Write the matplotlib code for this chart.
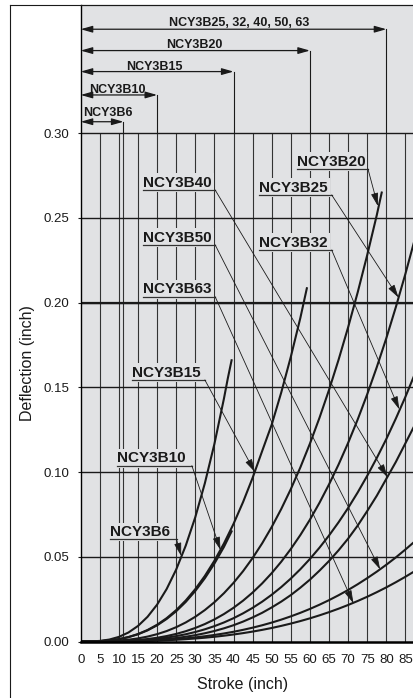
import matplotlib
matplotlib.use('Agg')
import matplotlib.pyplot as plt
from matplotlib.lines import Line2D

plt.rcParams['font.family'] = ['Liberation Sans', 'DejaVu Sans']

# --- data (inch) ---
stroke_b6 = [0, 2.5, 5, 7.5, 10, 12.5, 15, 17.5, 20, 22.5, 25, 27.5, 30, 32.5, 35,
             37.5, 38.5, 39.5]
defl_b6 = [0, 0.00004, 0.00034, 0.00115, 0.00272, 0.00531, 0.00918, 0.01458, 0.02176,
           0.03098, 0.0425, 0.0566, 0.0734, 0.0934, 0.1166, 0.1434, 0.1552, 0.1660]

stroke_b10 = [0, 2.5, 5, 7.5, 10, 12.5, 15, 17.5, 20, 22.5, 25, 27.5, 30, 32.5, 35,
              37.5, 39.5]
defl_b10 = [0, 0.00003, 0.0002, 0.0006, 0.00136, 0.00255, 0.00426, 0.00656, 0.00955,
            0.0133, 0.01787, 0.02336, 0.02984, 0.03735, 0.0460, 0.05584, 0.0650]

stroke_b15 = [0, 2.5, 5, 7.5, 10, 12.5, 15, 17.5, 20, 22.5, 25, 27.5, 30, 32.5, 35,
              37.5, 40, 42.5, 45, 47.5, 50, 52.5, 55, 57.5, 59.2]
defl_b15 = [0, 0.00003, 0.0002, 0.00063, 0.00141, 0.00264, 0.00441, 0.0068, 0.0099,
            0.01378, 0.01852, 0.02421, 0.03092, 0.0387, 0.04767, 0.05786, 0.0694,
            0.0823, 0.0966, 0.1124, 0.1280, 0.1470, 0.1680, 0.1910, 0.2085]

stroke_b20 = [0, 2.5, 5, 7.5, 10, 12.5, 15, 17.5, 20, 22.5, 25, 27.5, 30, 32.5, 35,
              37.5, 40, 42.5, 45, 47.5, 50, 52.5, 55, 57.5, 60, 62.5, 65, 67.5, 70,
              72.5, 75, 77.5, 78.8]
defl_b20 = [0, 0.00001, 0.00007, 0.00023, 0.00054, 0.00106, 0.00183, 0.0029, 0.00433,
            0.00616, 0.00845, 0.01124, 0.0146, 0.01856, 0.02318, 0.02851, 0.0346,
            0.0415, 0.04926, 0.05794, 0.06758, 0.07823, 0.08994, 0.10277, 0.11677,
            0.13198, 0.14846, 0.16626, 0.18543, 0.2060, 0.22807, 0.2516, 0.2650]

stroke_big = [0, 2.5, 5, 7.5, 10, 12.5, 15, 17.5, 20, 22.5, 25, 27.5, 30, 32.5, 35,
              37.5, 40, 42.5, 45, 47.5, 50, 52.5, 55, 57.5, 60, 62.5, 65, 67.5, 70,
              72.5, 75, 77.5, 80, 82.5, 85, 87.5, 88]
defl_b25 = [0, 0.0, 0.00003, 0.0001, 0.00025, 0.0005, 0.00089, 0.00145, 0.00221,
            0.00321, 0.00448, 0.00607, 0.00799, 0.0103, 0.01303, 0.01621, 0.01989,
            0.0241, 0.02889, 0.03429, 0.04035, 0.0471, 0.0546, 0.06284, 0.0719,
            0.08185, 0.0927, 0.10445, 0.1172, 0.1310, 0.1459, 0.1619, 0.1790, 0.1974,
            0.2170, 0.2378, 0.2420]
defl_b32 = [0, 0.0, 0.00002, 0.00007, 0.00018, 0.00037, 0.00064, 0.00104, 0.00158,
            0.00228, 0.00318, 0.00427, 0.0056, 0.0072, 0.00907, 0.01124, 0.01375,
            0.01662, 0.01986, 0.0235, 0.02759, 0.03213, 0.03714, 0.04267, 0.04872,
            0.05535, 0.06255, 0.07036, 0.0788, 0.08795, 0.0978, 0.1083, 0.1195,
            0.1316, 0.1444, 0.1581, 0.1610]
defl_b40 = [0, 0.0, 0.00001, 0.00004, 0.0001, 0.00021, 0.00038, 0.00063, 0.00098,
            0.00145, 0.00205, 0.00281, 0.00374, 0.00486, 0.0062, 0.00778, 0.0096,
            0.01175, 0.0142, 0.01694, 0.0201, 0.02355, 0.0274, 0.03177, 0.0365,
            0.0418, 0.0475, 0.05383, 0.0607, 0.0684, 0.0770, 0.0860, 0.0960, 0.1060,
            0.1170, 0.1280, 0.1300]
defl_b50 = [0, 0.0, 0.00001, 0.00004, 0.00009, 0.00018, 0.00031, 0.00049, 0.00073,
            0.00103, 0.00142, 0.00188, 0.00244, 0.00309, 0.00386, 0.00474, 0.00574,
            0.00688, 0.00816, 0.00958, 0.01116, 0.01291, 0.01483, 0.01693, 0.01922,
            0.02171, 0.0244, 0.0273, 0.0304, 0.03378, 0.0374, 0.04121, 0.0453,
            0.04964, 0.0543, 0.05915, 0.0602]
defl_b63 = [0, 0.0, 0.00001, 0.00003, 0.00007, 0.00013, 0.00023, 0.00036, 0.00054,
            0.00076, 0.00103, 0.00137, 0.00177, 0.00224, 0.00279, 0.00342, 0.00414,
            0.00494, 0.00585, 0.00686, 0.00798, 0.00922, 0.01058, 0.01206, 0.01367,
            0.01543, 0.01732, 0.01936, 0.02155, 0.0239, 0.02641, 0.0291, 0.03195,
            0.03499, 0.03821, 0.04161, 0.0423]

# max stroke ranges shown in the header
range_labels = ['NCY3B6', 'NCY3B10', 'NCY3B15', 'NCY3B20', 'NCY3B25, 32, 40, 50, 63']
range_max = [11.2, 20, 40, 60, 80]

# curve callouts: label, text pos, underline end, arrow tip
callout_labels = ['NCY3B6', 'NCY3B10', 'NCY3B15', 'NCY3B20', 'NCY3B25',
                  'NCY3B32', 'NCY3B40', 'NCY3B50', 'NCY3B63']
callout_x = [7.7, 9.4, 13.35, 56.5, 46.7, 46.7, 16.3, 16.3, 16.3]
callout_y = [0.0603, 0.1038, 0.1544, 0.2789, 0.2636, 0.2311, 0.2665, 0.2341, 0.2035]
callout_end = [25.1, 29.1, 32.5, 75.2, 65.7, 65.7, 35.2, 35.2, 35.2]
tip_x = [26.3, 36.6, 45.6, 77.8, 83.2, 83.4, 80.3, 78.4, 71.4]
tip_y = [0.0505, 0.0540, 0.1000, 0.2570, 0.2030, 0.1370, 0.0970, 0.0425, 0.0225]

x_ticks = list(range(0, 90, 5))
y_ticks = [0.00, 0.05, 0.10, 0.15, 0.20, 0.25, 0.30]
x_grid = [5, 10, 11.2, 15, 20, 25, 30, 35, 40, 45, 50, 55, 60, 65, 70, 75, 80, 85]

bg = '#e1e2e4'
ink = '#1a1a1a'

fig = plt.figure(figsize=(4.14, 6.98), dpi=100)
ax = fig.add_axes([80.7 / 414, 56.5 / 698, 333.3 / 414, 636.5 / 698])
ax.set_facecolor(bg)
ax.set_xlim(0, 87.25)
ax.set_ylim(0, 0.3757)

# grid, only inside the chart part
ax.vlines(x_grid, 0, 0.30, color='#333333', lw=0.8, zorder=1)
ax.hlines(y_ticks[1:], 0, 87.25, color=ink, lw=1.0, zorder=1)
ax.hlines([0.20], 0, 87.25, color=ink, lw=1.6, zorder=1)

# curves
ax.plot(stroke_b6, defl_b6, color=ink, lw=1.5, zorder=2)
ax.plot(stroke_b10, defl_b10, color=ink, lw=1.5, zorder=2)
ax.plot(stroke_b15, defl_b15, color=ink, lw=1.5, zorder=2)
ax.plot(stroke_b20, defl_b20, color=ink, lw=1.5, zorder=2)
for d in [defl_b25, defl_b32, defl_b40, defl_b50, defl_b63]:
    ax.plot(stroke_big, d, color=ink, lw=1.5, zorder=2)

# header: stroke ranges
arrow_y = [0.3068, 0.3226, 0.3364, 0.3488, 0.3614]
text_y = [0.3099, 0.3238, 0.3374, 0.3504, 0.3633]
text_x = [0.6, 2.3, 19.2, 29.7, 41.4]
text_ha = ['left', 'left', 'center', 'center', 'center']
for lab, xm, ay, ty, tx, ha in zip(range_labels, range_max, arrow_y, text_y, text_x, text_ha):
    ax.annotate('', xy=(xm, ay), xytext=(0, ay),
                arrowprops=dict(arrowstyle='<|-|>,head_length=0.7,head_width=0.2',
                                color=ink, lw=0.9, shrinkA=0, shrinkB=0,
                                mutation_scale=10))
    ax.plot([xm, xm], [ay, 0.30], color=ink, lw=0.8)
    ax.text(tx, ty, lab, ha=ha, va='baseline', fontsize=9, fontweight='bold', color=ink)

# callouts
for lab, cx, cy, ce, tx, ty in zip(callout_labels, callout_x, callout_y, callout_end, tip_x, tip_y):
    ax.text(cx, cy + 0.002, lab, ha='left', va='baseline', fontsize=11,
            fontweight='bold', color=ink, zorder=3,
            bbox=dict(boxstyle='square,pad=0.15', fc=bg, ec='none'))
    ax.plot([cx, ce], [cy, cy], color='#333333', lw=0.9, zorder=4)
    ax.annotate('', xy=(tx, ty), xytext=(ce, cy),
                arrowprops=dict(arrowstyle='-|>,head_length=0.8,head_width=0.22',
                                color=ink, lw=0.6, shrinkA=0, shrinkB=0,
                                mutation_scale=10), zorder=4)

# axes styling
ax.spines['right'].set_visible(False)
ax.spines['left'].set_linewidth(1.0)
ax.spines['top'].set_linewidth(0.8)
ax.spines['bottom'].set_linewidth(1.8)
ax.set_xticks(x_ticks)
ax.set_xticklabels([str(v) for v in x_ticks])
ax.set_yticks(y_ticks)
ax.set_yticklabels(['%.2f' % v for v in y_ticks])
ax.tick_params(axis='x', length=0, pad=9, labelsize=9.5, colors=ink)
ax.tick_params(axis='y', length=2, pad=6, labelsize=9.5, colors=ink)

ax.text(0.4855, -0.0668, 'Stroke (inch)', transform=ax.transAxes,
        ha='center', va='center', fontsize=11.5, color=ink)
fig.text(28 / 414, 1 - 363 / 698, 'Deflection (inch)', rotation=90,
         ha='center', va='center', fontsize=11.5, color=ink)

# outer frame
fig.add_artist(Line2D([10 / 414, 10 / 414], [0, 1 - 5 / 698], color=ink, lw=0.8,
                      transform=fig.transFigure))
fig.add_artist(Line2D([10 / 414, 1], [1 - 5 / 698, 1 - 5 / 698], color=ink, lw=0.8,
                      transform=fig.transFigure))

fig.savefig('out.png', dpi=100, facecolor='white')
